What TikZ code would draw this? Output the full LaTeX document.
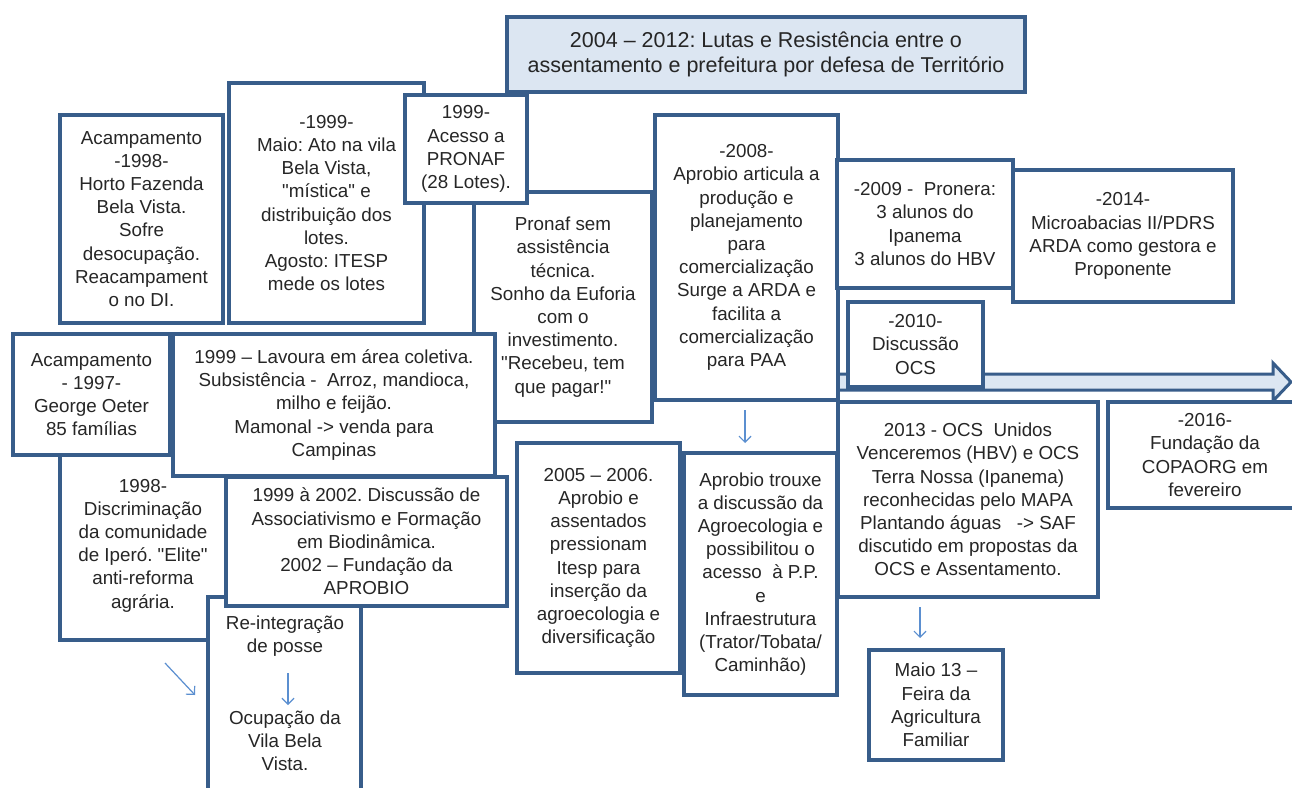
\documentclass[tikz,border=0pt]{standalone}
\usepackage{fontspec}
\setmainfont{Liberation Sans}[Ligatures=TeXOff]
\usetikzlibrary{arrows.meta}
\frenchspacing
\definecolor{bord}{HTML}{385D8A}
\definecolor{lightfill}{HTML}{DCE6F2}
\definecolor{thinc}{HTML}{5B8FD0}
\definecolor{txt}{HTML}{262626}
\newcommand\bfnt{\fontsize{18.8}{23.2}\selectfont}
\newcommand\tfnt{\fontsize{21.5}{25.5}\selectfont}
\tikzset{
  box/.style={draw=bord, line width=3.5pt, fill=white, inner sep=0pt, align=center, text=txt, font=\bfnt},
  titlebox/.style={box, fill=lightfill, font=\tfnt},
  plain/.style={inner sep=0pt, align=center, text=txt, font=\bfnt},
  thin/.style={draw=thinc, line width=1.2pt, -{Straight Barb[length=6pt,width=12pt]}},
}
\begin{document}
\begin{tikzpicture}[x=1pt,y=-1pt]
\clip (0,0) rectangle (1292,787);
\fill[white] (0,0) rectangle (1292,787);
% big timeline arrow
\draw[draw=bord, line width=3pt, fill=lightfill, line join=miter]
  (700,374) -- (1273,374) -- (1273,363) -- (1291,382) -- (1273,401) -- (1273,390) -- (700,390) -- cycle;
% background boxes
\node[box, minimum width=166pt, minimum height=189pt] (disc) at (143,545.5)
  {1998-\\Discriminação\\da comunidade\\de Iperó. "Elite"\\anti-reforma\\agrária.};
\node[box, minimum width=153pt, minimum height=213pt] (reintbox) at (284.5,703.5) {};
\node[plain] (reint) at (285,636.5) {Re-integração\\de posse};
\node[plain] (ocup) at (285,741) {Ocupação da\\Vila Bela\\Vista.};
\node[box, minimum width=178pt, minimum height=230pt] (semast) at (563,307)
  {Pronaf sem\\assistência\\técnica.\\Sonho da Euforia\\com o\\investimento.\\"Recebeu, tem\\que pagar!"};
\node[box, minimum width=163pt, minimum height=208pt] (a98) at (141.5,219)
  {Acampamento\\-1998-\\Horto Fazenda\\Bela Vista.\\Sofre\\desocupação.\\Reacampament\\o no DI.};
\node[box, minimum width=195pt, minimum height=240pt] (y99) at (326.5,203)
  {-1999-\\Maio: Ato na vila\\Bela Vista,\\"mística" e\\distribuição dos\\lotes.\\Agosto: ITESP\\mede os lotes};
\node[box, minimum width=122pt, minimum height=108pt] (pronaf) at (466,149)
  {1999-\\Acesso a\\PRONAF\\(28 Lotes).};
\node[box, minimum width=157pt, minimum height=121pt] (a97) at (91.5,394.5)
  {Acampamento\\- 1997-\\George Oeter\\85 famílias};
\node[box, minimum width=322pt, minimum height=142pt] (lav) at (334,405)
  {1999 – Lavoura em área coletiva.\\Subsistência -\ \ Arroz, mandioca,\\milho e feijão.\\Mamonal -> venda para\\Campinas};
\node[box, minimum width=281pt, minimum height=129pt] (y9902) at (366.5,541.5)
  {1999 à 2002. Discussão de\\Associativismo e Formação\\em Biodinâmica.\\2002 – Fundação da\\APROBIO};
\node[titlebox, minimum width=518pt, minimum height=75pt] (title) at (766,54.5)
  {2004 – 2012: Lutas e Resistência entre o\\assentamento e prefeitura por defesa de Território};
\node[box, minimum width=183pt, minimum height=285pt] (y2008) at (746.5,257.5)
  {-2008-\\Aprobio articula a\\produção e\\planejamento\\para\\comercialização\\Surge a ARDA e\\facilita a\\comercialização\\para PAA};
\node[box, minimum width=176pt, minimum height=128pt] (y2009) at (925,224)
  {-2009 -\ \ Pronera:\\3 alunos do\\Ipanema\\3 alunos do HBV};
\node[box, minimum width=220pt, minimum height=132pt] (y2014) at (1123,236)
  {-2014-\\Microabacias II/PDRS\\ARDA como gestora e\\Proponente};
\node[box, minimum width=135pt, minimum height=85pt] (y2010) at (915.5,344.5)
  {-2010-\\Discussão\\OCS};
\node[box, minimum width=163pt, minimum height=230pt] (y0506) at (598.5,558)
  {2005 – 2006.\\Aprobio e\\assentados\\pressionam\\Itesp para\\inserção da\\agroecologia e\\diversificação};
\node[box, minimum width=153pt, minimum height=242pt] (trouxe) at (760.5,574)
  {Aprobio trouxe\\a discussão da\\Agroecologia e\\possibilitou o\\acesso\ \ à P.P.\\e\\Infraestrutura\\(Trator/Tobata/\\Caminhão)};
\node[box, minimum width=260pt, minimum height=195pt] (y2013) at (968,499.5)
  {2013 - OCS\ \ Unidos\\Venceremos (HBV) e OCS\\Terra Nossa (Ipanema)\\reconhecidas pelo MAPA\\Plantando águas\ \ \ -> SAF\\discutido em propostas da\\OCS e Assentamento.};
\node[box, minimum width=134pt, minimum height=110pt] (maio) at (936,705)
  {Maio 13 –\\Feira da\\Agricultura\\Familiar};
\node[box, minimum width=194pt, minimum height=106pt] (y2016) at (1205,455)
  {-2016-\\Fundação da\\COPAORG em\\fevereiro};
% thin arrows
\coordinate (d1) at (165,663); \coordinate (d2) at (195,695);
\coordinate (r1) at (288,673); \coordinate (r2) at (288,705);
\coordinate (p1) at (745,410); \coordinate (p2) at (745,443);
\coordinate (m1) at (920,607); \coordinate (m2) at (920,638);
\draw[thin] (d1) -- (d2);
\draw[thin] (r1) -- (r2);
\draw[thin] (p1) -- (p2);
\draw[thin] (m1) -- (m2);
\end{tikzpicture}
\end{document}
